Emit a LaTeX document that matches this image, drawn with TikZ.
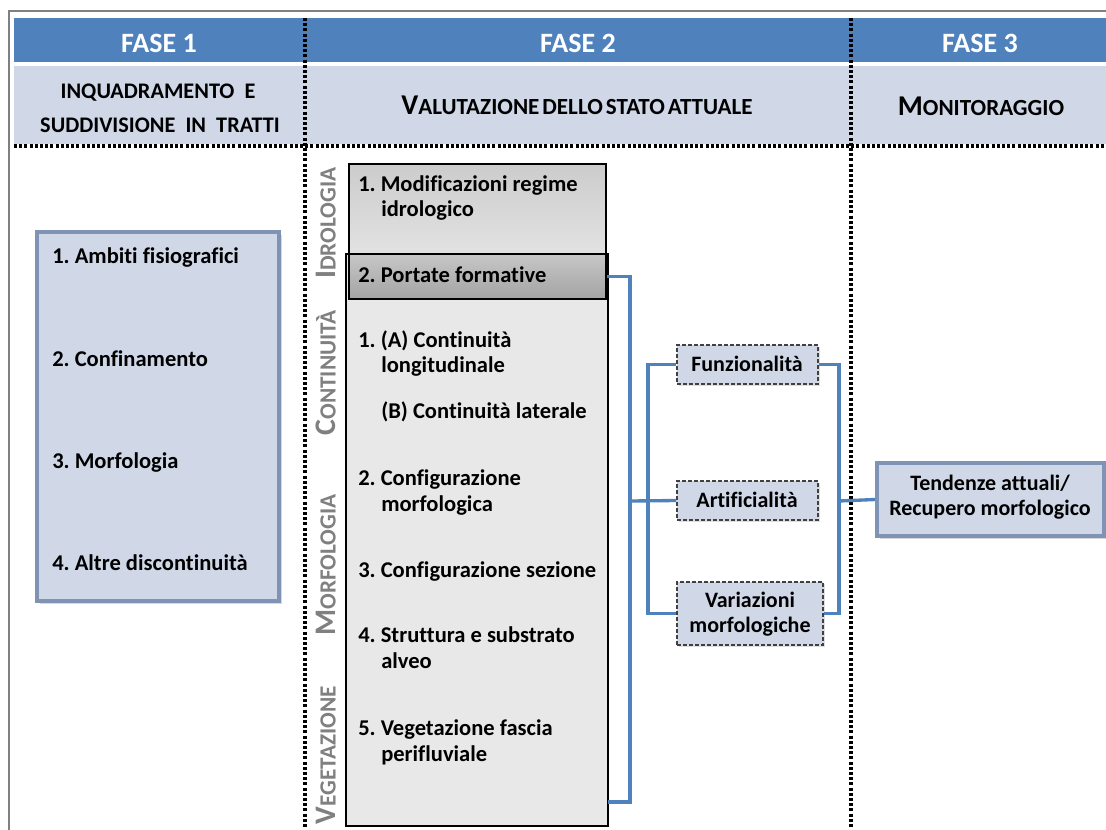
\documentclass[tikz,border=0pt]{standalone}
\usepackage{fontspec}
\setmainfont{Carlito}[Ligatures=NoCommon]
\frenchspacing
\usetikzlibrary{fit,shadows,calc}
\definecolor{hdrblue}{HTML}{4F81BD}
\definecolor{lightband}{HTML}{D0D8E8}
\definecolor{conblue}{HTML}{4F81BD}
\definecolor{boxborder}{HTML}{7F93B5}
\definecolor{labgray}{HTML}{808080}
\newcommand\mysc[2]{{\fontsize{22.4}{24}\selectfont #1}{\fontsize{17.4}{20}\selectfont #2}}
\newcommand\mysub[2]{{\fontsize{21.5}{24}\selectfont #1}{\fontsize{17.3}{20}\selectfont #2}}
\begin{document}
\begin{tikzpicture}[x=0.75pt,y=-0.75pt,
  phase/.style={anchor=base, inner sep=0, text=white, font=\fontsize{21}{24}\selectfont\bfseries},
  subhd/.style={anchor=base, inner sep=0, font=\fontsize{16.7}{19}\selectfont\bfseries},
  item/.style={anchor=base west, inner sep=0, font=\fontsize{16.9}{19}\selectfont\bfseries},
  ctext/.style={anchor=base, inner sep=0, font=\fontsize{16.5}{19}\selectfont\bfseries},
  sidelab/.style={rotate=90, text=labgray, inner sep=0, font=\bfseries},
  dotline/.style={line width=2.5pt, dash pattern=on 2.2pt off 1.7pt},
  conn/.style={conblue, line width=2.5pt},
  dbox/.style={draw=black!75, dash pattern=on 3pt off 1.5pt, fill=lightband, line width=1pt, inner sep=0,
     drop shadow={opacity=0.25, shadow xshift=1.5pt, shadow yshift=-1.5pt}},
  sbox/.style={fill=lightband, draw=boxborder, line width=3pt, inner sep=0,
     drop shadow={opacity=0.3, shadow xshift=2pt, shadow yshift=-2pt}},
  gbox/.style={draw=black, line width=2.2pt, inner sep=0}
]
\useasboundingbox (0,0) rectangle (1106,829);
\fill[white] (0,0) rectangle (1106,829);
% outer frame
\draw[gray, line width=1.8pt] (9,840) -- (9,11) -- (1115,11);
% header bands
\node[fit={(14,18) (1106,62)}, fill=hdrblue, inner sep=0] (hdr) {};
\node[fit={(14,66) (1106,144)}, fill=lightband, inner sep=0] (band) {};
\node[phase] (fase1) at (159,52) {FASE 1};
\node[phase] (fase2) at (578,52) {FASE 2};
\node[phase] (fase3) at (980,52) {FASE 3};
\node[subhd] (sub1a) at (158,98) {INQUADRAMENTO\ \ E};
\node[subhd] (sub1b) at (160,132) {SUDDIVISIONE\ \ IN\ \ TRATTI};
\node[anchor=base, inner sep=0, font=\bfseries] (sub2) at (577,114) {\mysub{V}{ALUTAZIONE}\ \mysub{}{DELLO}\ \mysub{}{STATO}\ \mysub{}{ATTUALE}};
\node[anchor=base, inner sep=0, font=\bfseries] (sub3) at (981,115) {\mysub{M}{ONITORAGGIO}};
% dotted separators
\draw[dotline] (14,146) -- (1106,146);
\draw[dotline] (305,18) -- (305,829);
\draw[dotline] (851,18) -- (851,829);
% phase 1 box
\node[sbox, fit={(37,232) (279,601)}] (f1box) {};
\node[item] (a1) at (52,263) {1. Ambiti fisiografici};
\node[item] (a2) at (52,366) {2. Confinamento};
\node[item] (a3) at (52,468) {3. Morfologia};
\node[item] (a4) at (52,570) {4. Altre discontinuità};
% phase 2 boxes
\node[gbox, fill=black!9, fit={(346,254) (608,826)}] (main) {};
\node[gbox, top color=black!20, bottom color=black!7, fit={(349,164) (606,299)}] (idro) {};
\node[gbox, top color=black!22, bottom color=black!36, fit={(349,254) (606,299)}] (port) {};
\node[item] (b1a) at (358,191) {1. Modificazioni regime};
\node[item] (b1b) at (381,216) {idrologico};
\node[item] (b2) at (358,282) {2. Portate formative};
\node[item] (c1a) at (358,347) {1. (A) Continuità};
\node[item] (c1b) at (381,372) {longitudinale};
\node[item] (c1c) at (381,418) {(B) Continuità laterale};
\node[item] (m2a) at (358,485) {2. Configurazione};
\node[item] (m2b) at (381,511) {morfologica};
\node[item] (m3) at (358,577) {3. Configurazione sezione};
\node[item] (m4a) at (358,642) {4. Struttura e substrato};
\node[item] (m4b) at (381,668) {alveo};
\node[item] (v5a) at (358,735) {5. Vegetazione fascia};
\node[item] (v5b) at (381,761) {perifluviale};
% side labels
\node[sidelab] (lidro) at (326,223) {\mysc{I}{DROLOGIA}};
\node[sidelab] (lcont) at (326,373) {\mysc{C}{ONTINUITÀ}};
\node[sidelab] (lmorf) at (326,565) {\mysc{M}{ORFOLOGIA}};
\node[sidelab] (lveg) at (326,755) {\mysc{V}{EGETAZIONE}};
% dashed boxes
\node[dbox, fit={(677,345) (818,384)}] (funz) {};
\node[ctext] (funzT) at (747,371) {Funzionalità};
\node[dbox, fit={(677,481) (818,520)}] (artif) {};
\node[ctext] (artifT) at (747,507) {Artificialità};
\node[dbox, fit={(677,582) (823,645)}] (var) {};
\node[ctext] (varTa) at (750,607) {Variazioni};
\node[ctext] (varTb) at (750,632) {morfologiche};
% phase 3 box
\node[sbox, fit={(877,463) (1104,536)}] (tend) {};
\node[ctext] (tendTa) at (990,490) {Tendenze attuali/};
\node[ctext] (tendTb) at (990,515) {Recupero morfologico};
% connectors
\coordinate (jL) at (630,501);
\coordinate (jM) at (648,501);
\coordinate (jR) at (839,501);
\coordinate (mainEnd) at (608,802);
\draw[conn] (port.east) -| (jL) |- (mainEnd);
\draw[conn] (jL) -- (artif.west);
\draw[conn] (funz.west) -| (jM) |- (var.west);
\draw[conn] (funz.east) -| (jR) |- (var.east);
\draw[conn] (jR) -- (tend.west);
\end{tikzpicture}
\end{document}
